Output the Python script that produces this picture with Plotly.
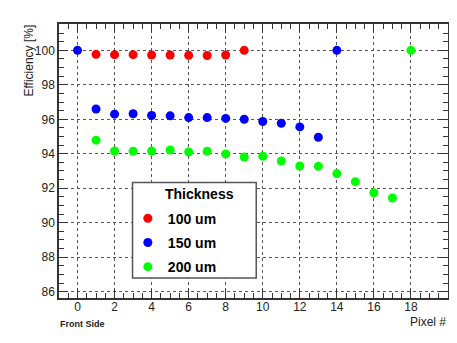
import plotly.graph_objects as go

# efficiency per pixel
pixels_100 = [1, 2, 3, 4, 5, 6, 7, 8, 9]
eff_100 = [99.77, 99.75, 99.75, 99.73, 99.73, 99.71, 99.70, 99.73, 100.0]

pixels_150 = [0, 1, 2, 3, 4, 5, 6, 7, 8, 9, 10, 11, 12, 13, 14]
eff_150 = [100.0, 96.60, 96.30, 96.32, 96.22, 96.20, 96.10, 96.10, 96.05,
           96.00, 95.87, 95.77, 95.56, 94.96, 100.0]

pixels_200 = [1, 2, 3, 4, 5, 6, 7, 8, 9, 10, 11, 12, 13, 14, 15, 16, 17, 18]
eff_200 = [94.79, 94.16, 94.15, 94.16, 94.22, 94.10, 94.15, 93.99, 93.81,
           93.85, 93.58, 93.29, 93.27, 92.85, 92.38, 91.74, 91.43, 100.0]

x_ticks = [0, 2, 4, 6, 8, 10, 12, 14, 16, 18]
y_ticks = [86, 88, 90, 92, 94, 96, 98, 100]

series = [
    ("100 um", pixels_100, eff_100, "#ff0000"),
    ("150 um", pixels_150, eff_150, "#0000ff"),
    ("200 um", pixels_200, eff_200, "#00ff00"),
]

FONT = "Liberation Sans, Arial, sans-serif"

fig = go.Figure()
for i, (name, xs, ys, col) in enumerate(series):
    fig.add_trace(go.Scatter(
        x=xs, y=ys, mode="markers", name=name, legendgroup=str(i),
        marker=dict(color=col, size=9, line=dict(width=0)),
    ))

axis_common = dict(
    showline=True, linecolor="#333", linewidth=1.5, mirror="allticks",
    ticks="inside", ticklen=9, tickwidth=1, tickcolor="#333",
    showgrid=True, gridcolor="#555", griddash="dot", gridwidth=1,
    zeroline=False, automargin=False,
    tickfont=dict(family=FONT, size=12, color="#222"),
)

fig.update_xaxes(
    range=[-1, 20], tickmode="array", tickvals=x_ticks,
    minor=dict(ticks="inside", ticklen=5, dtick=0.5, tick0=0, tickcolor="#333", showgrid=False),
    ticklabelstandoff=-3,
    **axis_common,
)
fig.update_yaxes(
    range=[85.63, 101.53], tickmode="array", tickvals=y_ticks,
    minor=dict(ticks="inside", ticklen=5, dtick=0.5, tick0=86, tickcolor="#333", showgrid=False),
    **axis_common,
)

# legend box drawn by hand so it matches the original frame
fig.add_shape(type="rect", xref="paper", yref="paper",
              x0=0.189, x1=0.507, y0=0.073, y1=0.4216,
              line=dict(color="#555", width=1.5), fillcolor="white", layer="above")

fig.add_annotation(text="<b>Thickness</b>", xref="paper", yref="paper",
                   x=0.267, y=0.378, xanchor="left", yanchor="middle",
                   showarrow=False, font=dict(family=FONT, size=14, color="black"))

fig.add_annotation(text="Efficiency [%]", textangle=-90, xref="paper", yref="paper",
                   x=-0.078, y=1.004, xanchor="center", yanchor="top",
                   showarrow=False, font=dict(family=FONT, size=12, color="#222"))
fig.add_annotation(text="Pixel #", xref="paper", yref="paper",
                   x=1.0, y=-0.088, xanchor="right", yanchor="middle",
                   showarrow=False, font=dict(family=FONT, size=12, color="#222"))
fig.add_annotation(text="<b>Front Side</b>", xref="paper", yref="paper",
                   x=-0.003, y=-0.094, xanchor="left", yanchor="middle",
                   showarrow=False, font=dict(family=FONT, size=9, color="#222"))

# page body has an 8px margin, so the figure is shrunk to fit the window
fig.update_layout(
    width=441, height=327,
    margin=dict(l=51, r=1, t=16, b=37),
    paper_bgcolor="white", plot_bgcolor="white",
    showlegend=True,
    legend=dict(
        x=0.177, y=0.348, xanchor="left", yanchor="top",
        bgcolor="rgba(0,0,0,0)", borderwidth=0,
        font=dict(family=FONT, size=14, color="black", weight="bold"),
        tracegroupgap=3, itemwidth=30,
    ),
)

fig.write_html("out.html")
